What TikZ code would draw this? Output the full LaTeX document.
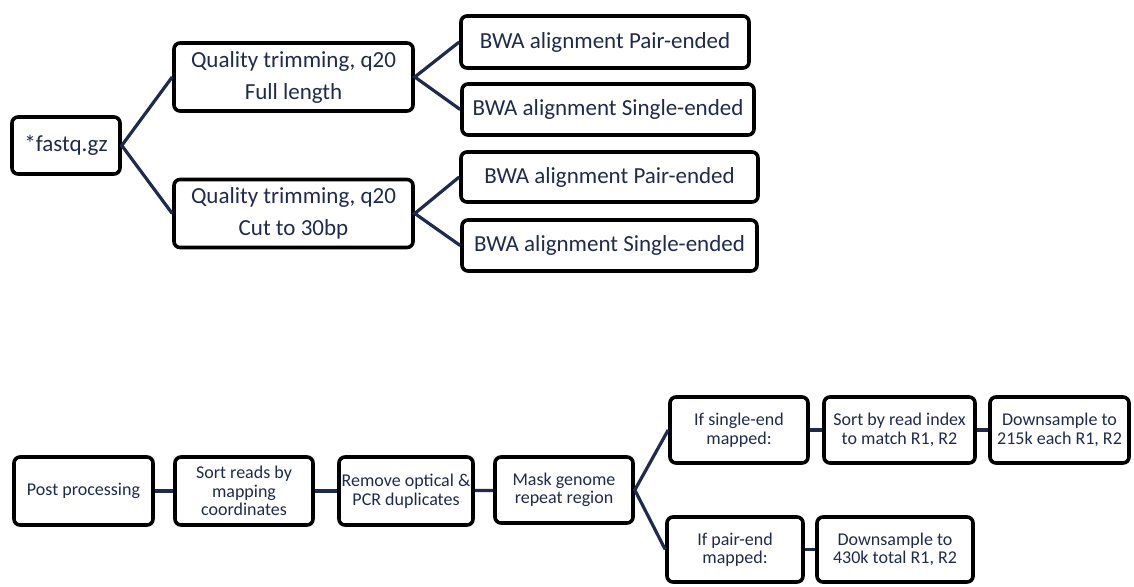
\documentclass[tikz,border=0pt]{standalone}
\usepackage{fontspec}
\setmainfont{Carlito}
\definecolor{navy}{HTML}{1F2A4F}

\tikzset{
  box/.style={draw=black, line width=3.6pt, rounded corners=6pt, text=navy, align=center, inner sep=1pt},
  bigbox/.style={box, font=\fontsize{23}{32}\selectfont},
  smallbox/.style={box, font=\fontsize{18}{18.5}\selectfont},
  link/.style={draw=navy, line width=3.2pt}
}

\begin{document}
\begin{tikzpicture}[x=1pt, y=-1pt]
\useasboundingbox (0,0) rectangle (1134,586);
% trimming and alignment
\node[bigbox, minimum width=108, minimum height=57] (fastq) at (66,145.5) {*fastq.gz};
\node[bigbox, minimum width=239, minimum height=68] (trimfull) at (293.5,77) {Quality trimming, q20\\Full length};
\node[bigbox, minimum width=239, minimum height=68] (trimcut) at (293.5,213.5) {Quality trimming, q20\\Cut to 30bp};
\node[bigbox, minimum width=288, minimum height=52] (bwapf) at (605,42) {BWA alignment Pair-ended};
\node[bigbox, minimum width=292, minimum height=51] (bwasf) at (608,109.5) {BWA alignment Single-ended};
\node[bigbox, minimum width=297, minimum height=50] (bwapc) at (609.5,177) {BWA alignment Pair-ended};
\node[bigbox, minimum width=295, minimum height=51] (bwasc) at (609.5,245.5) {BWA alignment Single-ended};
\draw[link] (trimfull.west) -- (fastq.east) -- (trimcut.west);
\draw[link] (bwapf.west) -- (trimfull.east) -- (bwasf.west);
\draw[link] (bwapc.west) -- (trimcut.east) -- (bwasc.west);
% post processing
\node[smallbox, minimum width=139, minimum height=68] (post) at (83.5,491) {Post processing};
\node[smallbox, minimum width=138, minimum height=68] (sortreads) at (244,491) {Sort reads by\\mapping\\coordinates};
\node[smallbox, minimum width=134, minimum height=68] (rmdup) at (406,491) {Remove optical \&\\PCR duplicates};
\node[smallbox, minimum width=138, minimum height=66] (mask) at (564,490) {Mask genome\\repeat region};
\node[smallbox, minimum width=138, minimum height=66] (single) at (739,430) {If single-end\\mapped:};
\node[smallbox, minimum width=151, minimum height=66] (sortidx) at (899.5,430) {Sort by read index\\to match R1, R2};
\node[smallbox, minimum width=139, minimum height=66] (downsingle) at (1059.5,430) {Downsample to\\215k each R1, R2};
\node[smallbox, minimum width=136, minimum height=65] (pair) at (735,549.5) {If pair-end\\mapped:};
\node[smallbox, minimum width=156, minimum height=65] (downpair) at (895,549.5) {Downsample to\\430k total R1, R2};
\draw[link] (post) -- (sortreads);
\draw[link] (sortreads) -- (rmdup);
\draw[link] (rmdup) -- (mask);
\draw[link] (single.west) -- (mask.east) -- (pair.west); % split by mapping mode
\draw[link] (single) -- (sortidx);
\draw[link] (sortidx) -- (downsingle);
\draw[link] (pair) -- (downpair);
\end{tikzpicture}
\end{document}
